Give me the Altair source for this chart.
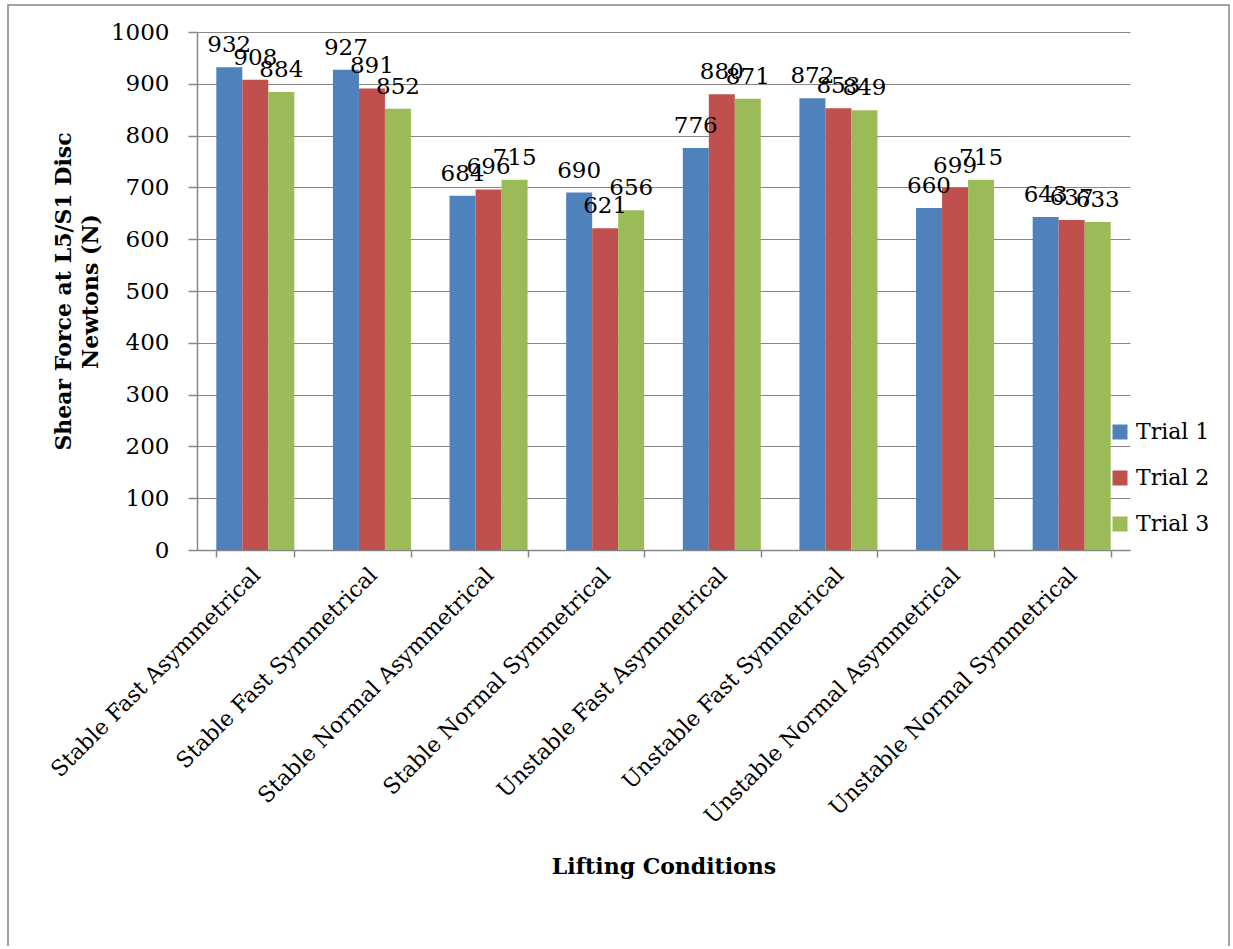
import altair as alt
import pandas as pd

# Shear force at the L5/S1 disc for each lifting condition, three trials each
conditions = [
    "Stable Fast Asymmetrical",
    "Stable Fast Symmetrical",
    "Stable Normal Asymmetrical",
    "Stable Normal Symmetrical",
    "Unstable Fast Asymmetrical",
    "Unstable Fast Symmetrical",
    "Unstable Normal Asymmetrical",
    "Unstable Normal Symmetrical",
]
trials = ["Trial 1", "Trial 2", "Trial 3"]
trial_1 = [932, 927, 684, 690, 776, 872, 660, 643]
trial_2 = [908, 891, 696, 621, 880, 853, 699, 637]
trial_3 = [884, 852, 715, 656, 871, 849, 715, 633]
colors = ["#4F81BD", "#C0504D", "#9BBB59"]
y_ticks = list(range(0, 1001, 100))

rows = []
for name, series in zip(trials, [trial_1, trial_2, trial_3]):
    for cond, val in zip(conditions, series):
        rows.append({"condition": cond, "trial": name, "value": val})
df = pd.DataFrame(rows)

FONT = "DejaVu Serif"
GRAY = "#878787"
W, H = 933, 518

x_enc = alt.X(
    "condition:N",
    sort=conditions,
    scale=alt.Scale(paddingInner=0.331, paddingOuter=0.1655),
    axis=alt.Axis(
        title="Lifting Conditions",
        titleFontSize=22,
        titleFontWeight="bold",
        titleX=W / 2,
        titleY=323,
        titleAnchor="middle",
        titleBaseline="alphabetic",
        labelAngle=-45,
        labelAlign="right",
        labelBaseline="top",
        labelFontSize=22,
        labelPadding=7,
        labelOffset=-6,
        tickBand="extent",
        tickSize=7,
        labelLimit=0,
    ),
)
xoff_enc = alt.XOffset("trial:N", sort=trials, scale=alt.Scale(paddingInner=0, paddingOuter=0))
y_enc = alt.Y(
    "value:Q",
    scale=alt.Scale(domain=[0, 1000], nice=False),
    axis=alt.Axis(
        values=y_ticks,
        format="d",
        title=["Shear Force at L5/S1 Disc", "Newtons (N)"],
        titleFontSize=22,
        titleFontWeight="bold",
        titleAngle=-90,
        titleX=-127,
        titleY=H / 2,
        titleAlign="center",
        titleBaseline="alphabetic",
        titleLineHeight=27,
        tickSize=9,
        labelPadding=19,
        grid=True,
    ),
)

base = alt.Chart(df).encode(x=x_enc, xOffset=xoff_enc, y=y_enc)

bars = base.mark_bar().encode(
    color=alt.Color(
        "trial:N",
        scale=alt.Scale(domain=trials, range=colors),
        legend=alt.Legend(
            title=None,
            orient="none",
            legendX=912,
            legendY=389,
            symbolType="square",
            symbolSize=225,
            symbolStrokeWidth=0,
            labelFont=FONT,
            labelFontSize=22,
            labelColor="black",
            labelOffset=5,
            rowPadding=24,
        ),
    )
)

labels = base.mark_text(
    baseline="alphabetic", dy=-15, font=FONT, fontSize=23, color="black"
).encode(text=alt.Text("value:Q"))

frame = alt.Chart(alt.Data(values=[{"frame": 1}])).mark_rect(
    filled=False, stroke=GRAY, strokeWidth=1.5
).encode(
    x=alt.value(-189), x2=alt.value(1032), y=alt.value(-27), y2=alt.value(960)
)

chart = (
    alt.layer(frame, bars, labels)
    .properties(
        width=W,
        height=H,
        autosize=alt.AutoSizeParams(type="none"),
        padding={"left": 197, "top": 32, "right": 103, "bottom": 396},
        background="white",
    )
    .configure_view(stroke=None)
    .configure_axis(
        labelFont=FONT,
        labelFontSize=23,
        labelColor="black",
        titleFont=FONT,
        titleColor="black",
        domainColor=GRAY,
        domainWidth=1.5,
        gridColor=GRAY,
        gridWidth=1.2,
        tickColor=GRAY,
        tickWidth=1.5,
    )
)

chart.save("out.html", embed_options={"renderer": "svg", "actions": False})
